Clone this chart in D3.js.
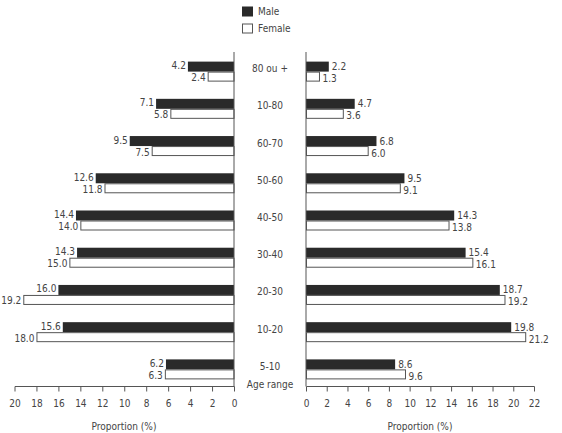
<!DOCTYPE html>
<html><head><meta charset="utf-8">
<script src="https://cdn.jsdelivr.net/npm/d3@7"></script>
<style>
body{margin:0;background:#fff;}
text{font-family:"DejaVu Sans Condensed","DejaVu Sans",sans-serif;font-size:10px;fill:#444;}
</style></head>
<body><svg id="c" width="562" height="433"></svg>
<script>
const categories = ["80 ou +","10-80","60-70","50-60","40-50","30-40","20-30","10-20","5-10"];
const leftMale   = [4.2,7.1,9.5,12.6,14.4,14.3,16.0,15.6,6.2];
const leftFemale = [2.4,5.8,7.5,11.8,14.0,15.0,19.2,18.0,6.3];
const rightMale   = [2.2,4.7,6.8,9.5,14.3,15.4,18.7,19.8,8.6];
const rightFemale = [1.3,3.6,6.0,9.1,13.8,16.1,19.2,21.2,9.6];
const leftTicks = [20,18,16,14,12,10,8,6,4,2,0];
const rightTicks = [0,2,4,6,8,10,12,14,16,18,20,22];
const seriesNames = ["Male","Female"];
const axisTitle = "Proportion (%)";
const yTitle = "Age range";

const svg = d3.select("#c");
const dark = "#2a2a2a", stroke = "#555";

const y = d3.scaleBand().domain(categories).range([53,388]).paddingInner(0).paddingOuter(0);
const barH = 10;
const xL = d3.scaleLinear().domain([0,20]).range([234,14.5]);
const xR = d3.scaleLinear().domain([0,22]).range([306,534]);
const axisY = 386.5;

function drawPanel(xs, male, female, side){
  const g = svg.append("g");
  const zero = xs(0);
  const data = categories.map((c,i)=>({c, m:male[i], f:female[i]}));
  data.forEach(d=>{
    const cy = y(d.c) + y.bandwidth()/2;
    const xm = xs(d.m);
    g.append("rect").attr("x",Math.min(xm,zero)).attr("y",cy-barH).attr("width",Math.abs(xm-zero)).attr("height",barH)
      .attr("fill",dark);
    const xf = xs(d.f);
    g.append("rect").attr("x",Math.min(xf,zero)+0.5).attr("y",cy+0.5).attr("width",Math.abs(xf-zero)-0.5).attr("height",barH-1)
      .attr("fill","#fff").attr("stroke",stroke).attr("stroke-width",1);
    if(side==="L"){
      g.append("text").attr("x",xm-2).attr("y",cy-6).attr("text-anchor","end").attr("dy","0.35em").text(d.m.toFixed(1));
      g.append("text").attr("x",xf-2).attr("y",cy+6).attr("text-anchor","end").attr("dy","0.35em").text(d.f.toFixed(1));
    } else {
      g.append("text").attr("x",xm+3).attr("y",cy-5).attr("text-anchor","start").attr("dy","0.35em").text(d.m.toFixed(1));
      g.append("text").attr("x",xf+3).attr("y",cy+7).attr("text-anchor","start").attr("dy","0.35em").text(d.f.toFixed(1));
    }
  });
  svg.append("line").attr("x1",zero).attr("x2",zero).attr("y1",52).attr("y2",axisY).attr("stroke",stroke);
}
drawPanel(xL, leftMale, leftFemale, "L");
drawPanel(xR, rightMale, rightFemale, "R");

const axL = svg.append("g").attr("transform",`translate(0,${axisY})`)
  .call(d3.axisBottom(xL).tickValues(leftTicks).tickSize(5).tickPadding(8).tickFormat(d3.format("d")));
const axR = svg.append("g").attr("transform",`translate(0,${axisY})`)
  .call(d3.axisBottom(xR).tickValues(rightTicks).tickSize(5).tickPadding(8).tickFormat(d3.format("d")));
[axL,axR].forEach(a=>{
  a.selectAll("path,line").attr("stroke",stroke);
  a.select(".domain").attr("d", function(){ return d3.select(this).attr("d").replace(/V\d+(\.\d+)?/g,"V0").replace(/^M([\d.]+),[\d.]+/,"M$1,0"); });
  a.selectAll("text").attr("fill","#444").style("font-family",'"DejaVu Sans Condensed","DejaVu Sans",sans-serif').style("font-size","10px");
});

svg.append("g").selectAll("text").data(categories).join("text")
  .attr("x",270).attr("y",d=>y(d)+y.bandwidth()/2-3).attr("dy","0.35em").attr("text-anchor","middle").text(d=>d);
svg.append("text").attr("x",270).attr("y",384).attr("dy","0.35em").attr("text-anchor","middle").text(yTitle);

svg.append("text").attr("x",124).attr("y",430).attr("text-anchor","middle").text(axisTitle);
svg.append("text").attr("x",420).attr("y",430).attr("text-anchor","middle").text(axisTitle);

const leg = svg.append("g");
seriesNames.forEach((s,i)=>{
  const yy = 6.5 + i*17;
  leg.append("rect").attr("x",i?242.5:242).attr("y",i?yy+0.5:yy).attr("width",i?10:11).attr("height",i?9:10)
    .attr("fill",i?"#fff":dark).attr("stroke",i?stroke:"none");
  leg.append("text").attr("x",258).attr("y",yy+5).attr("dy","0.35em").text(s);
});
</script></body></html>
